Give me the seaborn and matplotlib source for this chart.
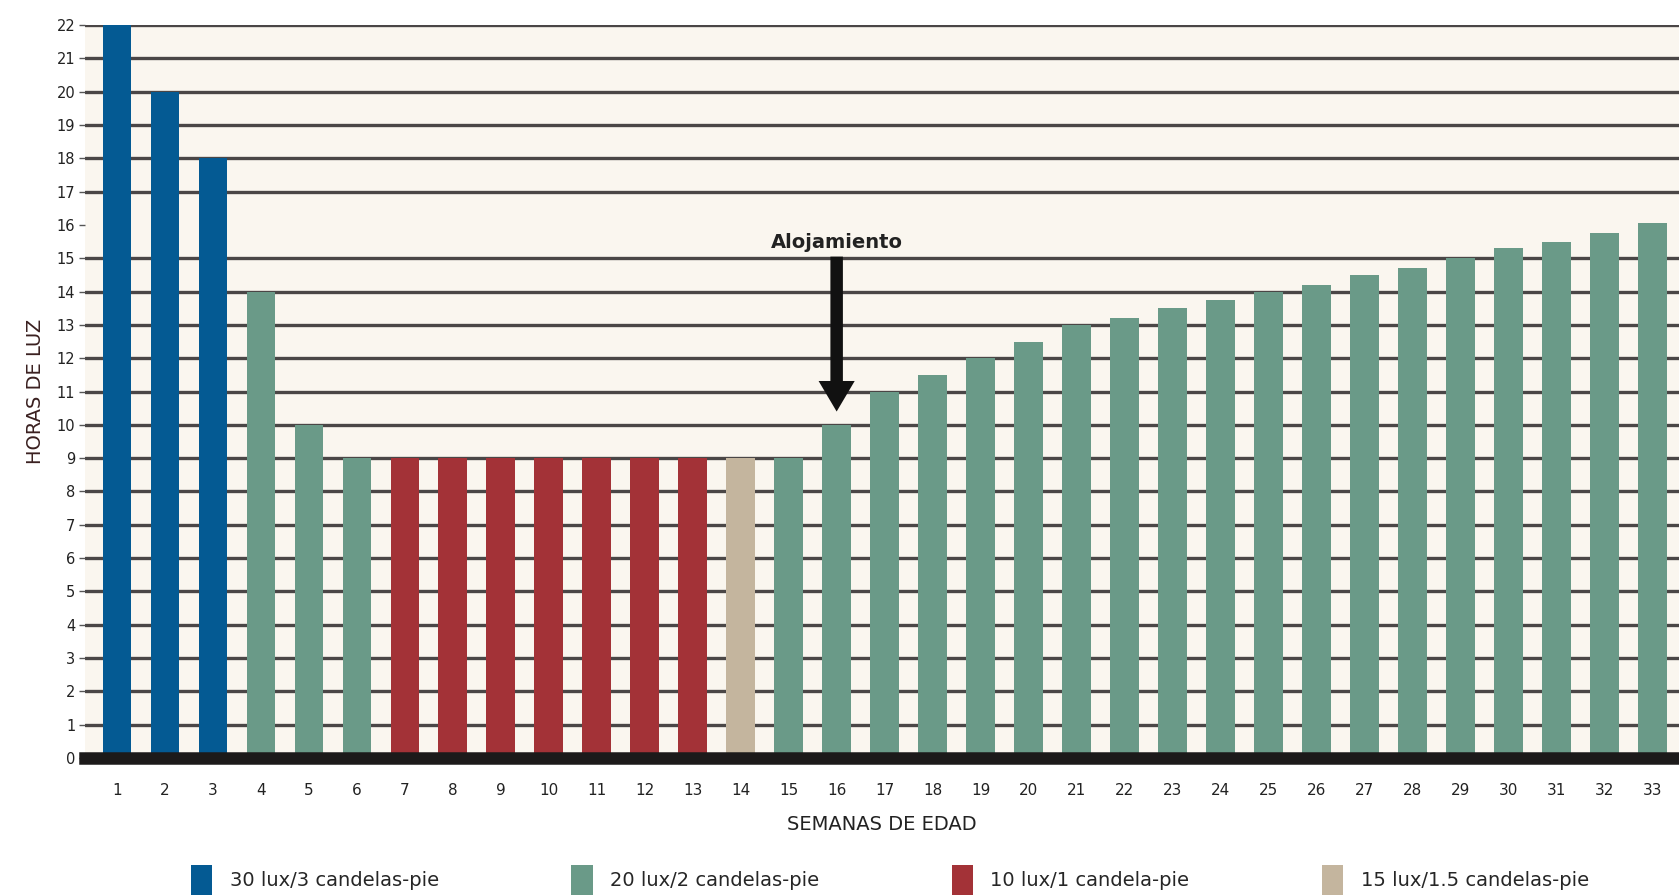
import matplotlib
matplotlib.use("Agg")
import matplotlib.pyplot as plt
import seaborn as sns
import pandas as pd
from matplotlib.patches import Patch

weeks = list(range(1, 34))
hours = [22, 20, 18, 14, 10, 9, 9, 9, 9, 9, 9, 9, 9, 9, 9, 10, 11, 11.5, 12, 12.5,
         13, 13.2, 13.5, 13.75, 14, 14.2, 14.5, 14.7, 15, 15.3, 15.5, 15.75, 16.05]
light = (["30 lux/3 candelas-pie"] * 3 + ["20 lux/2 candelas-pie"] * 3 +
         ["10 lux/1 candela-pie"] * 7 + ["15 lux/1.5 candelas-pie"] +
         ["20 lux/2 candelas-pie"] * 19)
legend_order = ["30 lux/3 candelas-pie", "20 lux/2 candelas-pie",
                "10 lux/1 candela-pie", "15 lux/1.5 candelas-pie"]
colors = ["#045A93", "#6A9A88", "#A33237", "#C4B59E"]
y_ticks = list(range(0, 23))

df = pd.DataFrame({"week": [str(w) for w in weeks], "hours": hours, "light": light})

sns.set_theme(style="white")
plt.rcParams['font.family'] = ['DejaVu Sans']

fig = plt.figure(figsize=(16.79, 8.96), dpi=100)
ax = fig.add_axes([0.0506, 0.154, 0.9494, 0.818])
ax.set_facecolor("#FAF6EF")

for t in y_ticks:
    if t in (0, 16):
        continue
    ax.axhline(t, color="#4a4646", lw=2.4, zorder=0)

sns.barplot(data=df, x="week", y="hours", hue="light", hue_order=legend_order,
            palette=dict(zip(legend_order, colors)), dodge=False, width=0.6,
            saturation=1, ax=ax, legend=False, zorder=2, linewidth=0,
            edgecolor="none")

ax.set_xlim(-0.67, 32.56)
ax.set_ylim(0, 22)
ax.set_yticks(y_ticks)
ax.set_yticklabels([str(t) for t in y_ticks], fontsize=10.5, color="#222222")
ax.tick_params(axis="x", labelsize=11, colors="#222222", length=0, pad=18)
ax.tick_params(axis="y", length=4, width=1, color="#555555", pad=3, left=True)
for s in ["top", "right", "left"]:
    ax.spines[s].set_visible(False)
ax.spines["bottom"].set_color("#1c1a1a")
ax.spines["bottom"].set_linewidth(9)

ax.set_xlabel("SEMANAS DE EDAD", fontsize=14, color="#222222", labelpad=12)
ax.set_ylabel("HORAS DE LUZ", fontsize=14, color="#3a2020", labelpad=8)

idx16 = weeks.index(16)
ax.annotate("", xy=(idx16, hours[idx16] + 0.4), xytext=(idx16, 15.05),
            arrowprops=dict(arrowstyle="simple,head_length=1.1,head_width=1.3,tail_width=0.45",
                            facecolor="#111111", edgecolor="none", lw=0,
                            mutation_scale=20, shrinkA=0, shrinkB=0), zorder=5)
ax.text(idx16, 15.2, "Alojamiento", ha="center", va="bottom", fontsize=14,
        fontweight="bold", color="#222222", zorder=5)

handles = [Patch(facecolor=c, edgecolor="none") for c in colors]
fig.legend(handles, legend_order, loc="center", bbox_to_anchor=(0.53, 0.018),
           ncol=4, frameon=False, fontsize=14, handlelength=1.1, handleheight=2.0,
           columnspacing=6.8, handletextpad=0.9)

fig.savefig("out.png", dpi=100, facecolor="white")
